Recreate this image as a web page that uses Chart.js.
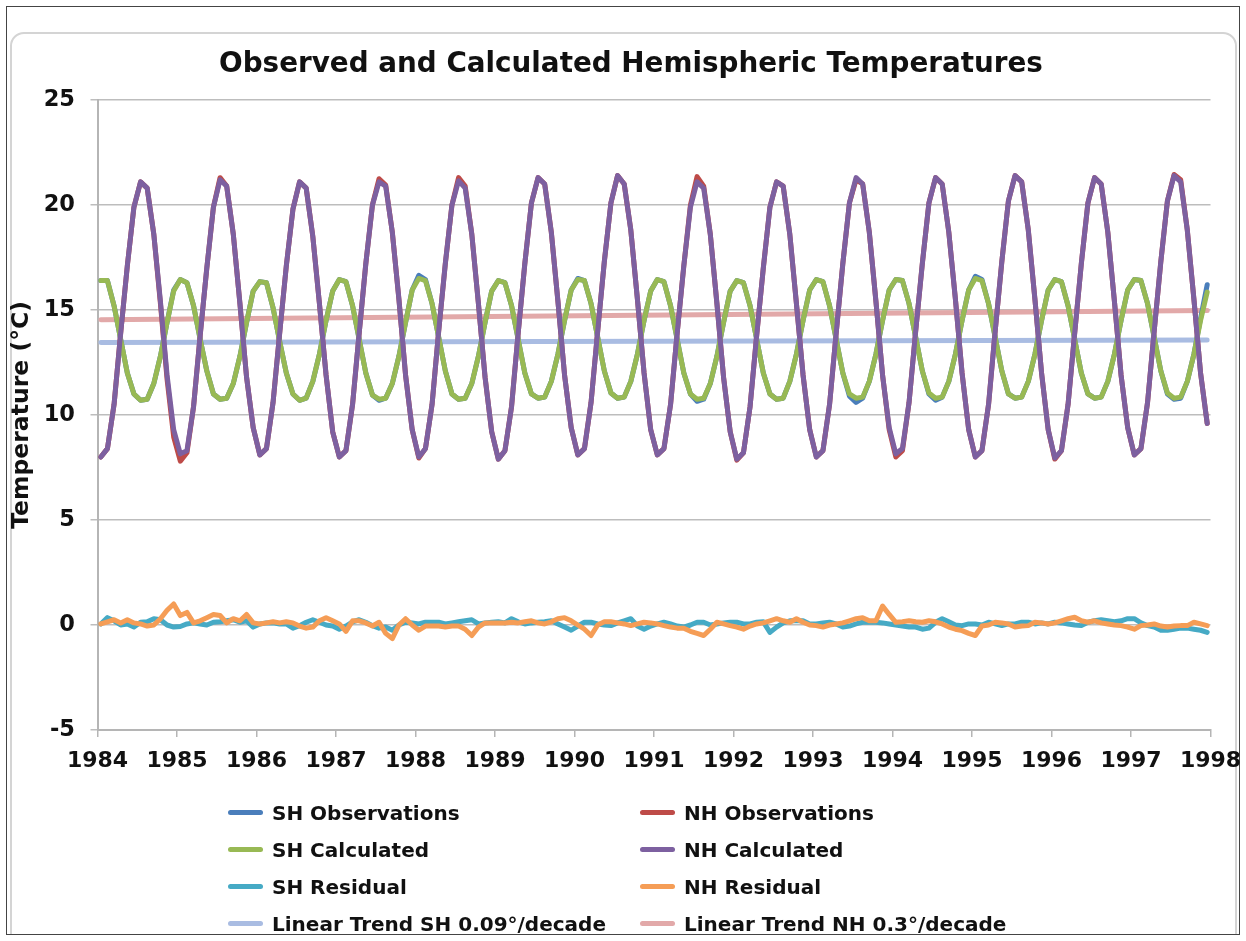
<!DOCTYPE html>
<html>
<head>
<meta charset="utf-8">
<title>Observed and Calculated Hemispheric Temperatures</title>
<script src="https://cdn.jsdelivr.net/npm/chart.js@4.4.0/dist/chart.umd.min.js"></script>
<style>
  body { margin: 0; background: #fff; font-family: "DejaVu Sans", sans-serif; }
  #frame { position: absolute; left: 6px; top: 6px; width: 1234px; height: 929px; border: 1px solid #444; box-sizing: border-box; overflow: hidden; }
  #inner { position: absolute; left: 3px; top: 25px; right: 2px; bottom: -20px; border: 2px solid #d4d4d4; border-radius: 14px; }
  #chart { position: absolute; left: 0; top: 0; }
  #legend { position: absolute; left: 228px; top: 794px; display: grid; grid-template-columns: 412px 412px; grid-auto-rows: 37px; }
  .item { display: flex; align-items: center; font-weight: bold; font-size: 20px; color: #111; white-space: nowrap; }
  .swatch { width: 35px; height: 5px; border-radius: 3px; margin-right: 9px; }
</style>
</head>
<body>
<div id="frame"><div id="inner"></div></div>
<canvas id="chart" width="1246" height="800"></canvas>
<div id="legend"></div>
<script>
// monthly values, Jan 1984 .. Dec 1997, one row per year
const startYear = 1984;
const yearTicks = [1984, 1985, 1986, 1987, 1988, 1989, 1990, 1991, 1992, 1993, 1994, 1995, 1996, 1997, 1998];
const tempTicks = [-5, 0, 5, 10, 15, 20, 25];

const shObs = [
  16.4, 16.4, 15.2, 13.6, 12.0, 11.0, 10.7, 10.75, 11.5, 12.8, 14.4, 15.95,
  16.45, 16.3, 15.2, 13.6, 12.1, 11.0, 10.75, 10.8, 11.5, 12.8, 14.4, 15.9,
  16.35, 16.3, 15.1, 13.5, 12.0, 11.0, 10.7, 10.8, 11.6, 12.9, 14.5, 15.9,
  16.45, 16.35, 15.2, 13.6, 12.0, 10.95, 10.7, 10.8, 11.5, 12.8, 14.4, 15.95,
  16.65, 16.45, 15.3, 13.7, 12.1, 11.0, 10.75, 10.8, 11.5, 12.8, 14.4, 15.9,
  16.4, 16.3, 15.2, 13.6, 12.0, 11.0, 10.8, 10.85, 11.6, 12.9, 14.5, 15.95,
  16.5, 16.4, 15.3, 13.7, 12.1, 11.05, 10.8, 10.85, 11.6, 12.9, 14.5, 15.9,
  16.45, 16.35, 15.2, 13.6, 12.0, 11.0, 10.65, 10.75, 11.5, 12.8, 14.4, 15.9,
  16.4, 16.3, 15.2, 13.6, 12.0, 11.0, 10.75, 10.8, 11.6, 12.9, 14.5, 15.95,
  16.45, 16.35, 15.2, 13.6, 12.0, 10.9, 10.6, 10.8, 11.6, 12.9, 14.5, 15.95,
  16.45, 16.4, 15.3, 13.7, 12.1, 11.0, 10.7, 10.85, 11.6, 12.9, 14.5, 15.95,
  16.6, 16.45, 15.3, 13.7, 12.1, 11.0, 10.8, 10.85, 11.6, 12.9, 14.5, 15.95,
  16.45, 16.35, 15.2, 13.6, 12.0, 11.0, 10.8, 10.85, 11.6, 12.9, 14.5, 15.95,
  16.45, 16.4, 15.3, 13.7, 12.1, 11.0, 10.75, 10.8, 11.6, 12.9, 14.6, 16.2
];
const nhObs = [
  8.0, 8.4, 10.5, 13.9, 17.1, 19.9, 21.1, 20.8, 18.6, 15.3, 11.7, 8.95,
  7.8, 8.2, 10.4, 13.8, 17.0, 19.9, 21.3, 20.9, 18.6, 15.3, 11.8, 9.4,
  8.1, 8.4, 10.6, 13.9, 17.1, 19.8, 21.1, 20.8, 18.5, 15.3, 11.9, 9.2,
  8.0, 8.3, 10.5, 13.9, 17.2, 20.0, 21.25, 20.95, 18.7, 15.5, 11.9, 9.3,
  7.95, 8.4, 10.5, 14.0, 17.2, 20.0, 21.3, 20.9, 18.6, 15.3, 11.8, 9.2,
  7.9, 8.3, 10.4, 13.9, 17.2, 20.1, 21.3, 21.0, 18.7, 15.4, 11.9, 9.4,
  8.1, 8.4, 10.6, 14.0, 17.3, 20.1, 21.4, 21.0, 18.8, 15.5, 12.0, 9.3,
  8.1, 8.4, 10.5, 13.9, 17.1, 20.0, 21.35, 20.9, 18.6, 15.3, 11.8, 9.2,
  7.85, 8.2, 10.4, 13.8, 17.0, 19.9, 21.1, 20.9, 18.6, 15.3, 11.9, 9.3,
  8.0, 8.3, 10.5, 13.9, 17.2, 20.1, 21.2, 21.0, 18.7, 15.4, 11.9, 9.3,
  8.0, 8.3, 10.6, 14.0, 17.2, 20.1, 21.3, 21.0, 18.7, 15.5, 12.0, 9.3,
  8.0, 8.3, 10.5, 14.0, 17.3, 20.2, 21.4, 21.1, 18.8, 15.5, 12.0, 9.3,
  7.9, 8.3, 10.5, 13.9, 17.2, 20.1, 21.3, 21.0, 18.7, 15.4, 11.9, 9.4,
  8.1, 8.4, 10.6, 14.0, 17.3, 20.2, 21.45, 21.2, 18.8, 15.5, 12.0, 9.6
];
const shCalc = [
  16.4, 16.4, 15.2, 13.6, 12.0, 11.0, 10.7, 10.75, 11.5, 12.8, 14.4, 15.9,
  16.45, 16.3, 15.2, 13.6, 12.1, 11.0, 10.75, 10.8, 11.5, 12.8, 14.4, 15.9,
  16.35, 16.3, 15.1, 13.5, 12.0, 11.0, 10.7, 10.8, 11.6, 12.9, 14.5, 15.9,
  16.45, 16.35, 15.2, 13.6, 12.0, 10.95, 10.75, 10.8, 11.5, 12.8, 14.4, 15.95,
  16.5, 16.4, 15.3, 13.7, 12.1, 11.0, 10.75, 10.8, 11.5, 12.8, 14.4, 15.9,
  16.4, 16.3, 15.2, 13.6, 12.0, 11.0, 10.8, 10.85, 11.6, 12.9, 14.5, 15.95,
  16.45, 16.4, 15.3, 13.7, 12.1, 11.05, 10.8, 10.85, 11.6, 12.9, 14.5, 15.9,
  16.45, 16.35, 15.2, 13.6, 12.0, 11.0, 10.75, 10.8, 11.5, 12.8, 14.4, 15.9,
  16.4, 16.3, 15.2, 13.6, 12.0, 11.0, 10.75, 10.8, 11.6, 12.9, 14.5, 15.95,
  16.45, 16.35, 15.2, 13.6, 12.0, 11.0, 10.8, 10.85, 11.6, 12.9, 14.5, 15.95,
  16.45, 16.4, 15.3, 13.7, 12.1, 11.05, 10.8, 10.85, 11.6, 12.9, 14.5, 15.95,
  16.5, 16.4, 15.3, 13.7, 12.1, 11.0, 10.8, 10.85, 11.6, 12.9, 14.5, 15.95,
  16.45, 16.35, 15.2, 13.6, 12.0, 11.0, 10.8, 10.85, 11.6, 12.9, 14.5, 15.95,
  16.45, 16.4, 15.3, 13.7, 12.1, 11.05, 10.8, 10.85, 11.6, 12.9, 14.5, 15.85
];
const nhCalc = [
  8.0, 8.4, 10.5, 13.9, 17.1, 19.9, 21.1, 20.8, 18.6, 15.4, 11.9, 9.3,
  8.15, 8.3, 10.4, 13.8, 17.0, 19.9, 21.2, 20.9, 18.6, 15.3, 11.8, 9.4,
  8.1, 8.4, 10.6, 13.9, 17.1, 19.8, 21.1, 20.8, 18.5, 15.3, 11.9, 9.2,
  8.0, 8.3, 10.5, 13.9, 17.2, 20.0, 21.1, 20.9, 18.7, 15.5, 11.9, 9.3,
  8.0, 8.4, 10.5, 14.0, 17.2, 20.0, 21.15, 20.8, 18.6, 15.3, 11.8, 9.2,
  7.9, 8.3, 10.4, 13.9, 17.2, 20.1, 21.3, 21.0, 18.7, 15.4, 11.9, 9.4,
  8.1, 8.4, 10.6, 14.0, 17.3, 20.1, 21.4, 21.0, 18.8, 15.5, 12.0, 9.3,
  8.1, 8.4, 10.5, 13.9, 17.1, 19.9, 21.1, 20.8, 18.6, 15.3, 11.8, 9.2,
  7.9, 8.2, 10.4, 13.8, 17.0, 19.9, 21.1, 20.9, 18.6, 15.3, 11.9, 9.3,
  8.0, 8.3, 10.5, 13.9, 17.2, 20.1, 21.3, 21.0, 18.7, 15.4, 11.9, 9.4,
  8.15, 8.4, 10.6, 14.0, 17.2, 20.1, 21.3, 21.0, 18.7, 15.5, 12.0, 9.3,
  8.0, 8.3, 10.5, 14.0, 17.3, 20.2, 21.4, 21.1, 18.8, 15.5, 12.0, 9.3,
  7.95, 8.3, 10.5, 13.9, 17.2, 20.1, 21.3, 21.0, 18.7, 15.4, 11.9, 9.4,
  8.1, 8.4, 10.6, 14.0, 17.3, 20.2, 21.4, 21.1, 18.8, 15.5, 12.0, 9.6
];
const shResid = [
  0.05, 0.35, 0.2, 0.0, 0.05, -0.1, 0.13, 0.15, 0.3, 0.25, 0.0, -0.1,
  -0.07, 0.05, 0.1, 0.05, 0.0, 0.13, 0.15, 0.2, 0.25, 0.13, 0.2, -0.1,
  0.05, 0.1, 0.1, 0.05, 0.05, -0.15, -0.03, 0.13, 0.25, 0.13, 0.0, -0.05,
  -0.2, -0.05, 0.15, 0.25, 0.13, -0.03, -0.15, -0.1, -0.25, 0.0, 0.13, 0.1,
  0.05, 0.13, 0.13, 0.13, 0.05, 0.1, 0.15, 0.2, 0.25, 0.05, 0.1, 0.13,
  0.15, 0.1, 0.3, 0.15, 0.05, 0.1, 0.13, 0.15, 0.2, 0.05, -0.1, -0.25,
  -0.05, 0.13, 0.13, 0.05, 0.0, -0.03, 0.1, 0.2, 0.3, -0.05, -0.2, -0.05,
  0.05, 0.13, 0.05, -0.05, -0.1, 0.0, 0.13, 0.13, 0.0, 0.05, 0.1, 0.13,
  0.13, 0.05, 0.05, 0.13, 0.15, -0.35, -0.1, 0.1, 0.2, 0.2, 0.2, 0.05,
  0.05, 0.1, 0.13, 0.05, -0.1, -0.05, 0.05, 0.13, 0.13, 0.13, 0.1, 0.05,
  0.0, -0.05, -0.1, -0.1, -0.2, -0.15, 0.13, 0.3, 0.15, 0.0, -0.03, 0.05,
  0.05, 0.0, 0.13, 0.05, -0.03, 0.05, 0.05, 0.13, 0.13, 0.05, 0.1, 0.05,
  0.13, 0.1, 0.05, 0.0, -0.03, 0.13, 0.2, 0.25, 0.2, 0.15, 0.2, 0.3,
  0.3, 0.1, -0.03, -0.1, -0.25, -0.25, -0.2, -0.15, -0.15, -0.2, -0.25, -0.35
];
const nhResid = [
  0.05, 0.15, 0.25, 0.1, 0.25, 0.1, 0.05, -0.05, 0.0, 0.3, 0.7, 1.0,
  0.45, 0.6, 0.1, 0.2, 0.35, 0.5, 0.45, 0.1, 0.3, 0.2, 0.5, 0.1,
  0.05, 0.1, 0.15, 0.1, 0.15, 0.1, -0.05, -0.15, -0.1, 0.2, 0.35, 0.2,
  0.05, -0.3, 0.2, 0.2, 0.1, -0.05, 0.13, -0.4, -0.65, 0.0, 0.3, 0.0,
  -0.25, -0.05, -0.05, -0.05, -0.1, -0.05, -0.05, -0.2, -0.5, -0.1, 0.1, 0.1,
  0.1, 0.1, 0.13, 0.1, 0.15, 0.2, 0.1, 0.05, 0.15, 0.3, 0.35, 0.2,
  0.0, -0.2, -0.5, 0.0, 0.15, 0.15, 0.1, 0.05, -0.03, 0.05, 0.13, 0.1,
  0.05, -0.03, -0.1, -0.15, -0.15, -0.3, -0.4, -0.5, -0.2, 0.13, 0.05, -0.03,
  -0.1, -0.2, -0.05, 0.05, 0.1, 0.2, 0.3, 0.2, 0.13, 0.3, 0.13, 0.0,
  -0.03, -0.1, 0.0, 0.05, 0.1, 0.2, 0.3, 0.35, 0.2, 0.2, 0.9, 0.5,
  0.13, 0.15, 0.2, 0.15, 0.13, 0.2, 0.15, 0.05, -0.1, -0.2, -0.27, -0.4,
  -0.5, -0.05, 0.0, 0.13, 0.1, 0.05, -0.1, -0.05, -0.03, 0.13, 0.1, 0.05,
  0.1, 0.2, 0.3, 0.37, 0.2, 0.13, 0.2, 0.1, 0.05, 0.0, -0.03, -0.1,
  -0.2, -0.03, 0.0, 0.05, -0.05, -0.1, -0.05, -0.03, -0.03, 0.13, 0.05, -0.03
];
// linear trends: value at first month and at last month
const shTrend = [13.45, 13.57];
const nhTrend = [14.54, 14.97];

const monthX = i => startYear + (i + 0.5) / 12;
const monthly = arr => arr.map((v, i) => ({ x: monthX(i), y: v }));
const trend = arr => [{ x: monthX(0), y: arr[0] }, { x: monthX(shObs.length - 1), y: arr[1] }];

function line(label, data, color, order) {
  return {
    label: label, data: data, borderColor: color, backgroundColor: color,
    borderWidth: 5, pointRadius: 0, tension: 0, order: order,
    borderJoinStyle: 'round', borderCapStyle: 'round', fill: false
  };
}

const font = 'DejaVu Sans';
const ctx = document.getElementById('chart').getContext('2d');
const chart = new Chart(ctx, {
  type: 'line',
  data: {
    datasets: [
      line('SH Observations', monthly(shObs), '#4a7ebb', 6),
      line('NH Observations', monthly(nhObs), '#be4b48', 5),
      line('SH Calculated', monthly(shCalc), '#98b954', 4),
      line('NH Calculated', monthly(nhCalc), '#7d60a0', 3),
      line('SH Residual', monthly(shResid), '#46aac5', 2),
      line('NH Residual', monthly(nhResid), '#f59d56', 1),
      line('Linear Trend SH 0.09°/decade', trend(shTrend), '#a9bce2', 8),
      line('Linear Trend NH 0.3°/decade', trend(nhTrend), '#e2a9a9', 7)
    ]
  },
  options: {
    responsive: false,
    animation: false,
    layout: { padding: { left: 16, right: 0, top: 0, bottom: 0 } },
    plugins: {
      legend: { display: false },
      tooltip: { enabled: false },
      title: {
        display: true,
        text: 'Observed and Calculated Hemispheric Temperatures',
        color: '#111',
        font: { family: font, size: 27.8, weight: 'bold', lineHeight: 1.2 },
        padding: { top: 48.3, bottom: 18.3 }
      }
    },
    scales: {
      x: {
        type: 'linear',
        min: 1984, max: 1998,
        afterBuildTicks: axis => { axis.ticks = yearTicks.map(v => ({ value: v })); },
        afterFit: s => { s.height = 70; s.paddingRight = 35.5; },
        ticks: {
          autoSkip: false, maxRotation: 0, padding: 11, color: '#111',
          font: { family: font, size: 22, weight: 'bold' },
          callback: v => String(v)
        },
        grid: { display: true, drawOnChartArea: false, drawTicks: true, tickLength: 7, color: '#b5b5b5', lineWidth: 1.5 },
        border: { display: true, color: '#b5b5b5', width: 2 }
      },
      y: {
        min: -5, max: 25,
        afterBuildTicks: axis => { axis.ticks = tempTicks.map(v => ({ value: v })); },
        afterFit: s => { s.width = 81.5; },
        ticks: {
          padding: 15.5, color: '#111',
          font: { family: font, size: 22.5, weight: 'bold' }
        },
        grid: { color: '#bdbdbd', lineWidth: 1.5, drawTicks: true, tickLength: 7 },
        border: { display: true, color: '#b5b5b5', width: 2 },
        title: {
          display: true, text: 'Temperature (°C)', color: '#111',
          font: { family: font, size: 23.5, weight: 'bold', lineHeight: 0.51 },
          padding: { top: 0, bottom: 0 }
        }
      }
    }
  }
});

// html legend in two columns, built from the chart's datasets
const legend = document.getElementById('legend');
chart.data.datasets.forEach(ds => {
  const item = document.createElement('div');
  item.className = 'item';
  const sw = document.createElement('span');
  sw.className = 'swatch';
  sw.style.background = ds.borderColor;
  item.appendChild(sw);
  item.appendChild(document.createTextNode(ds.label));
  legend.appendChild(item);
});
</script>
</body>
</html>
